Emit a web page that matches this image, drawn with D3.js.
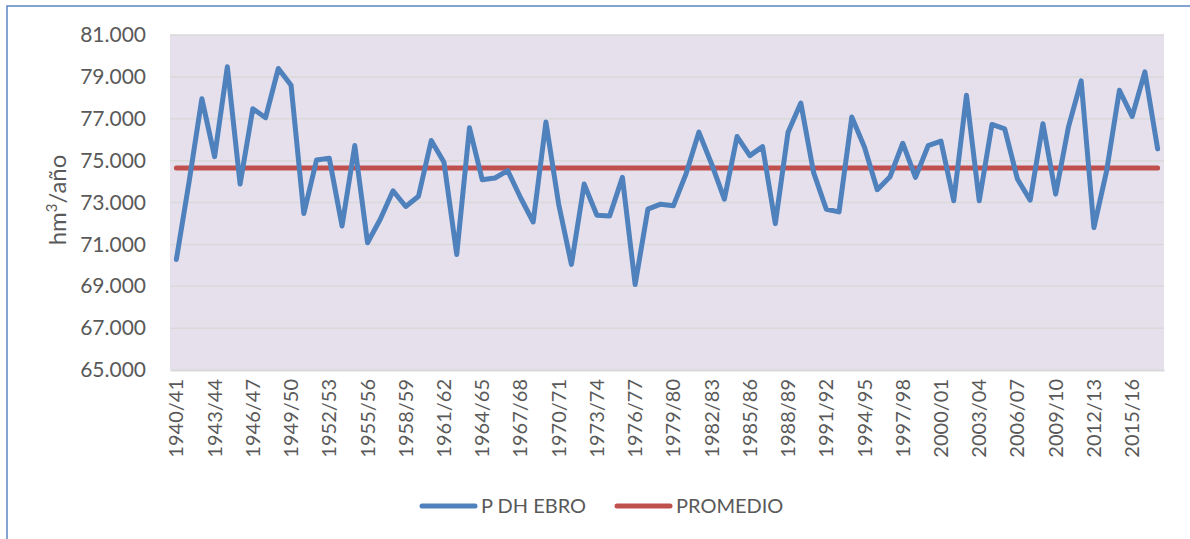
<!DOCTYPE html>
<html>
<head>
<meta charset="utf-8">
<script src="https://cdn.jsdelivr.net/npm/d3@7"></script>
<style>
  body { margin: 0; background: #fff; }
  svg { display: block; }
</style>
</head>
<body>
<div class="chart"></div>
<script>
// hydrological years 1940/41 .. 2017/18
const years = d3.range(1940, 2018).map(y => y + '/' + String((y + 1) % 100).padStart(2, '0'))

// P DH EBRO (hm3/año)
const precip = [
  70280, 74000, 77960, 75190, 79480, 73880, 77480, 77050, 79400, 78600,
  72470, 75030, 75110, 71880, 75720, 71080, 72200, 73560, 72810, 73300,
  75960, 74920, 70520, 76570, 74090, 74170, 74520, 73240, 72070, 76840,
  72920, 70040, 73880, 72390, 72360, 74200, 69080, 72680, 72920, 72840,
  74380, 76360, 74840, 73160, 76150, 75240, 75670, 71990, 76360, 77750,
  74440, 72680, 72550, 77080, 75640, 73610, 74230, 75830, 74200, 75720,
  75930, 73080, 78120, 73080, 76730, 76520, 74120, 73110, 76760, 73400,
  76600, 78810, 71800, 74520, 78360, 77110, 79240, 75560
]
const promedio = 74650

const yTicks = [65000, 67000, 69000, 71000, 73000, 75000, 77000, 79000, 81000]
const seriesNames = ['P DH EBRO', 'PROMEDIO']
const seriesColors = ['#4f81bd', '#c0504d']

const width = 1190
const height = 539
const margin = { left: 170, right: 26, top: 35, bottom: 171 }
const fontFamily = 'Lato, sans-serif'
const textColor = '#595959'

const locale = d3.formatLocale({ decimal: ',', thousands: '.', grouping: [3], currency: ['', '€'] })
const fmt = locale.format(',.0f')

const svg = d3.select('.chart').append('svg')
  .attr('width', width)
  .attr('height', height)
  .attr('font-family', fontFamily)

// outer frame
svg.append('rect')
  .attr('x', 7).attr('y', 6)
  .attr('width', 1200).attr('height', 600)
  .attr('fill', 'none')
  .attr('stroke', '#5b86c5')
  .attr('stroke-width', 1.5)

const x = d3.scaleBand()
  .domain(years)
  .range([margin.left, width - margin.right])

const y = d3.scaleLinear()
  .domain([65000, 81000])
  .range([height - margin.bottom + 2, margin.top])

const plotBottom = y(65000)

svg.append('rect')
  .attr('x', margin.left)
  .attr('y', y(81000))
  .attr('width', width - margin.right - margin.left)
  .attr('height', plotBottom - y(81000))
  .attr('fill', '#e5e0ec')

// gridlines
svg.append('g')
  .selectAll('line')
  .data(yTicks.slice(1))
  .join('line')
  .attr('x1', margin.left)
  .attr('x2', width - margin.right)
  .attr('y1', d => y(d))
  .attr('y2', d => y(d))
  .attr('stroke', '#d9d9d9')
  .attr('stroke-width', 1.5)

// y axis labels
const yAxis = svg.append('g')
  .attr('transform', `translate(${margin.left - 24},0)`)
  .call(d3.axisLeft(y).tickValues(yTicks).tickFormat(fmt).tickSize(0).tickPadding(0))
yAxis.select('.domain').remove()
yAxis.selectAll('text')
  .attr('font-size', 21)
  .attr('font-family', fontFamily)
  .attr('fill', textColor)

// x axis
const xAxis = svg.append('g')
  .attr('transform', `translate(0,${plotBottom})`)
  .call(d3.axisBottom(x).tickValues(years.filter((d, i) => i % 3 === 0)).tickSize(0).tickPadding(0))
xAxis.select('.domain')
  .attr('stroke', '#d9d9d9')
  .attr('stroke-width', 2)
xAxis.selectAll('text')
  .attr('font-size', 20)
  .attr('font-family', fontFamily)
  .attr('fill', textColor)
  .attr('text-anchor', 'end')
  .attr('dy', '0.35em')
  .attr('transform', 'translate(0,9) rotate(-90)')

// y axis title
const yTitle = svg.append('text')
  .attr('transform', 'translate(66,200) rotate(-90)')
  .attr('text-anchor', 'middle')
  .attr('font-size', 24)
  .attr('fill', textColor)
yTitle.append('tspan').text('hm')
yTitle.append('tspan').attr('font-size', 15).attr('dy', -9).text('3')
yTitle.append('tspan').attr('dy', 9).text('/año')

const cx = d => x(d) + x.bandwidth() / 2

// promedio line
svg.append('path')
  .datum(years)
  .attr('fill', 'none')
  .attr('stroke', seriesColors[1])
  .attr('stroke-width', 5)
  .attr('stroke-linecap', 'round')
  .attr('d', d3.line().x(d => cx(d)).y(() => y(promedio)))

// precipitation line
svg.append('path')
  .datum(precip)
  .attr('fill', 'none')
  .attr('stroke', seriesColors[0])
  .attr('stroke-width', 5)
  .attr('stroke-linejoin', 'round')
  .attr('stroke-linecap', 'round')
  .attr('d', d3.line().x((d, i) => cx(years[i])).y(d => y(d)))

// legend
const legendX = [422, 617]
const legend = svg.append('g')
  .selectAll('g')
  .data(seriesNames)
  .join('g')
  .attr('transform', (d, i) => `translate(${legendX[i]},506)`)
legend.append('line')
  .attr('x1', 0).attr('x2', 53)
  .attr('stroke', (d, i) => seriesColors[i])
  .attr('stroke-width', 5)
  .attr('stroke-linecap', 'round')
legend.append('text')
  .attr('x', 59)
  .attr('dy', '0.36em')
  .attr('font-size', 20)
  .attr('fill', textColor)
  .text(d => d)
</script>
</body>
</html>
